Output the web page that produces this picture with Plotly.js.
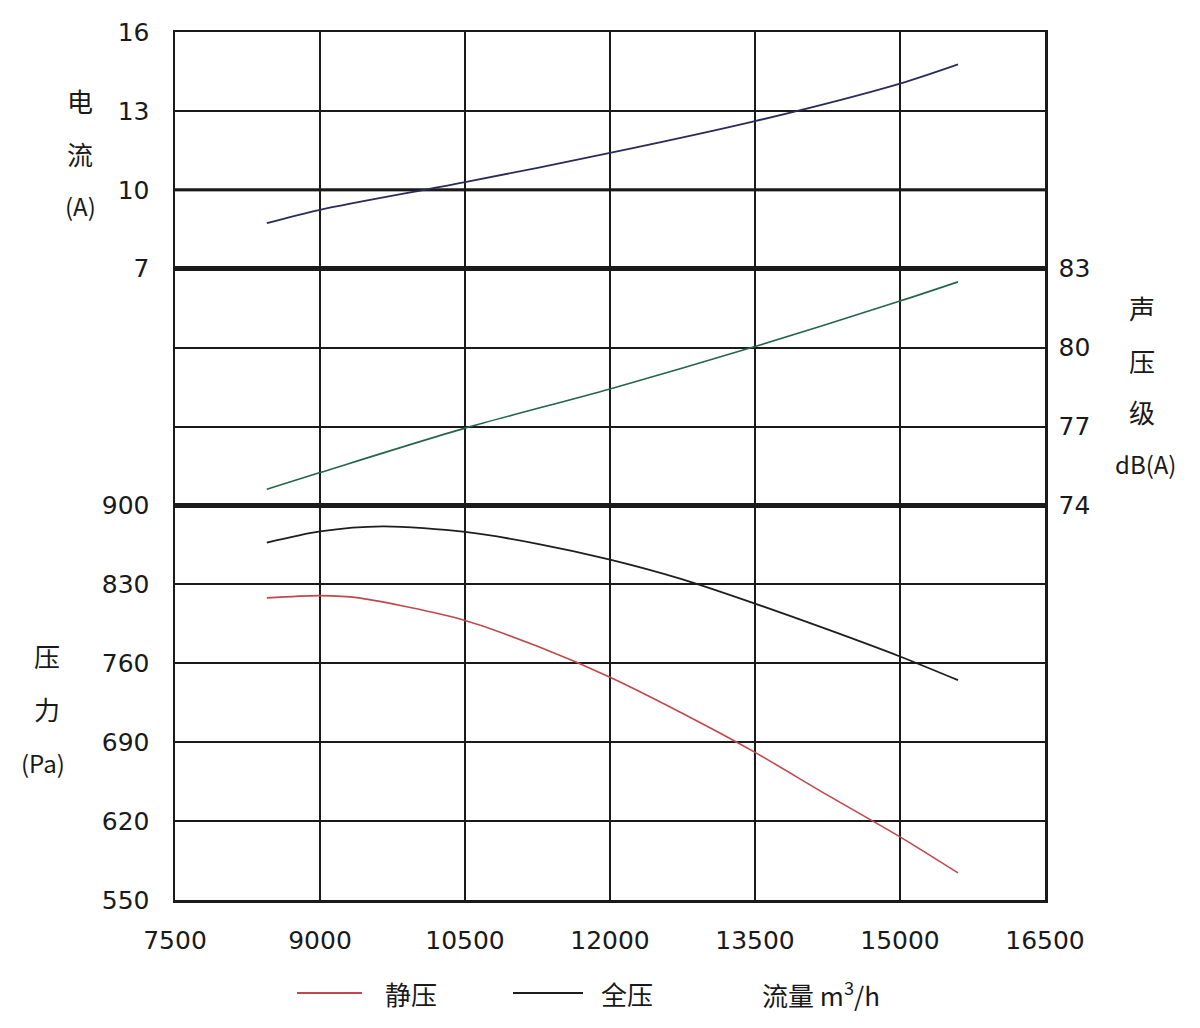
<!DOCTYPE html>
<html>
<head>
<meta charset="utf-8">
<script src="https://cdn.plot.ly/plotly-3.0.1.min.js"></script>
<style>html,body{margin:0;padding:0;background:#fff;}#chart{width:1200px;height:1028px;}</style>
</head>
<body>
<div id="chart"></div>
<script>
// Flow (m3/h) sample points
const flowA = [8450, 9000, 10500, 12000, 13500, 15000, 15600];
const current = [8.73, 9.24, 10.29, 11.40, 12.61, 14.04, 14.77];      // 电流 (A)
const sound = [74.62, 75.25, 76.94, 78.43, 80.04, 81.77, 82.5];        // 声压级 dB(A)

const flowP = [8450, 9000, 9650, 10500, 11250, 12000, 12750, 13500, 14250, 15000, 15600];
const totalP = [867, 877, 881.5, 876.5, 866, 852, 834.5, 813, 790, 766, 745];   // 全压 Pa
const flowS = [8450, 9000, 9400, 10500, 11250, 12000, 12930, 13500, 14250, 15000, 15600];
const staticP = [818, 820, 818, 798, 775, 747.6, 707.5, 681, 643, 606, 574];    // 静压 Pa

const xTicks = [7500, 9000, 10500, 12000, 13500, 15000, 16500];
const seriesNames = {stat: '静压', total: '全压'};
const xLabel = '流量 m<sup>3</sup>/h';

const FONT = '"DejaVu Sans", "Liberation Sans", sans-serif';
const CJK = '"Noto Sans CJK SC", "DejaVu Sans", sans-serif';
const INK = '#1a1a1a';
const RED = '#c0474a';
const BLACK = '#1e1e1e';

const traces = [
  {x: flowA, y: current, yaxis: 'y3', mode: 'lines', line: {color: '#2b2b5a', width: 1.8, shape: 'spline', smoothing: 0.8}, name: '电流'},
  {x: flowA, y: sound, yaxis: 'y2', mode: 'lines', line: {color: '#23664a', width: 1.6, shape: 'spline', smoothing: 0.8}, name: '声压级'},
  {x: flowS, y: staticP, yaxis: 'y', mode: 'lines', line: {color: RED, width: 1.6, shape: 'spline', smoothing: 0.8}, name: seriesNames.stat},
  {x: flowP, y: totalP, yaxis: 'y', mode: 'lines', line: {color: BLACK, width: 1.8, shape: 'spline', smoothing: 0.8}, name: seriesNames.total}
];

const px2x = p => (p - 175) / 870;
const py2y = p => (900 - p) / 868;

function ann(text, px, py, size, anchor) {
  return {text: text, xref: 'paper', yref: 'paper', x: px2x(px), y: py2y(py),
    xanchor: anchor || 'center', yanchor: 'middle', showarrow: false,
    font: {family: CJK, size: size || 24, color: INK}};
}
function legLine(x0, x1, py, color) {
  return {type: 'line', xref: 'paper', yref: 'paper', x0: px2x(x0), x1: px2x(x1), y0: py2y(py), y1: py2y(py),
    line: {color: color, width: 2}};
}

const yCommon = {
  showline: true, mirror: true, linecolor: INK, linewidth: 2.5,
  showgrid: true, gridcolor: INK, gridwidth: 2, zeroline: false,
  ticks: '', tickfont: {family: FONT, size: 25, color: INK}, fixedrange: true
};

const layout = {
  width: 1200, height: 1028,
  margin: {l: 175, r: 155, t: 32, b: 128},
  paper_bgcolor: '#fff', plot_bgcolor: '#fff',
  showlegend: false,
  xaxis: {range: [7500, 16500], tickvals: xTicks, ticktext: xTicks.map(String),
    showline: true, mirror: 'all', linecolor: INK, linewidth: 2.5,
    showgrid: true, gridcolor: INK, gridwidth: 2, zeroline: false, ticks: '',
    ticklabelstandoff: 16,
    tickfont: {family: FONT, size: 25, color: INK}, anchor: 'y', fixedrange: true},
  yaxis: Object.assign({}, yCommon, {domain: [0, 5/11], range: [550, 900], tick0: 550, dtick: 70, side: 'left', anchor: 'x', ticklabelstandoff: 18}),
  yaxis2: Object.assign({}, yCommon, {domain: [5/11, 8/11], range: [74, 83], tick0: 74, dtick: 3, side: 'right', anchor: 'x', ticklabelstandoff: 6}),
  yaxis3: Object.assign({}, yCommon, {domain: [8/11, 1], range: [7, 16], tick0: 7, dtick: 3, side: 'left', anchor: 'x', ticklabelstandoff: 18}),
  shapes: [
    {type: 'line', xref: 'paper', yref: 'y3', x0: 0, x1: 1, y0: 10, y1: 10, line: {color: '#555', width: 3.5}, layer: 'below'},
    legLine(297, 362, 993, RED),
    legLine(513, 583, 993, BLACK)
  ],
  annotations: [
    ann('电', 80, 100, 26), ann('流', 80, 153, 26), ann('(A)', 80, 205, 24),
    ann('声', 1142, 307, 26), ann('压', 1142, 360, 26), ann('级', 1142, 411, 26), ann('dB(A)', 1145, 463, 24),
    ann('压', 47, 655, 26), ann('力', 47, 708, 26), ann('(Pa)', 43, 762, 24),
    ann(seriesNames.stat, 383, 993, 26, 'left'),
    ann(seriesNames.total, 599, 993, 26, 'left'),
    ann(xLabel, 760, 993, 26, 'left')
  ]
};

Plotly.newPlot('chart', traces, layout, {displayModeBar: false, staticPlot: true});
</script>
</body>
</html>
